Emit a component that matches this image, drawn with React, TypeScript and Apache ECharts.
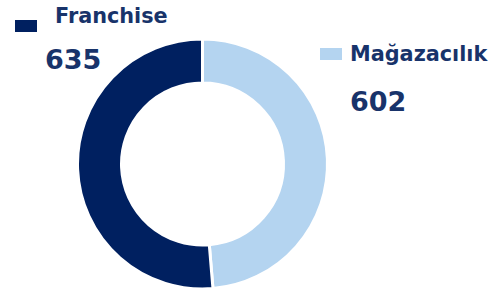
import React, { useEffect, useRef } from "react";
import * as echarts from "echarts";

const categories = ["Mağazacılık", "Franchise"];
const values = [602, 635];
const colors = ["#b4d4f0", "#002060"];
const textColor = "#18336a";

export default function App() {
  const ref = useRef<HTMLDivElement>(null);
  useEffect(() => {
    document.body.style.margin = "0";
    const chart = echarts.init(ref.current!, null, { renderer: "svg" });
    const font = "DejaVu Sans, Verdana, sans-serif";
    const legendPos = [
      { rx: 320, ry: 48, tx: 350, ty: 54, nx: 350, ny: 101 },
      { rx: 15, ry: 20, tx: 55, ty: 16, nx: 45, ny: 59 },
    ];
    const graphics: any[] = [];
    categories.forEach((c, i) => {
      const p = legendPos[i];
      graphics.push({
        type: "rect",
        shape: { x: p.rx, y: p.ry, width: 22, height: 12 },
        style: { fill: colors[i] },
      });
      graphics.push({
        type: "text",
        x: p.tx,
        y: p.ty,
        style: {
          text: c,
          fill: textColor,
          font: `bold 20.8px ${font}`,
          verticalAlign: "middle",
          align: "left",
        },
      });
      graphics.push({
        type: "text",
        x: p.nx,
        y: p.ny,
        style: {
          text: String(values[i]),
          fill: textColor,
          font: `bold 27px ${font}`,
          verticalAlign: "middle",
          align: "left",
        },
      });
    });
    chart.setOption({
      animation: false,
      graphic: graphics,
      series: [
        {
          type: "pie",
          center: [202.5, 164],
          radius: [81, 125],
          startAngle: 90,
          clockwise: true,
          label: { show: false },
          labelLine: { show: false },
          emphasis: { disabled: true },
          itemStyle: { borderColor: "#ffffff", borderWidth: 3 },
          data: categories.map((c, i) => ({
            name: c,
            value: values[i],
            itemStyle: { color: colors[i] },
          })),
        },
      ],
    });
    return () => chart.dispose();
  }, []);
  return (
    <div
      ref={ref}
      style={{ width: 488, height: 292, position: "absolute", left: 0, top: 0 }}
    />
  );
}
